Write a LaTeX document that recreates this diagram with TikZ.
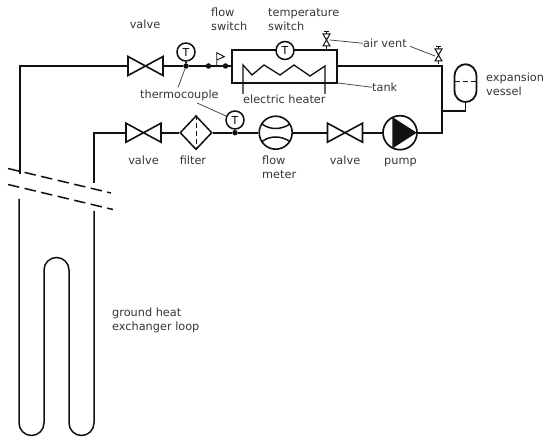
\documentclass[tikz,border=0pt]{standalone}
\usepackage{fontspec}
\setmainfont{DejaVu Sans}
\usetikzlibrary{shapes.geometric,calc}
\definecolor{ink}{HTML}{111111}
\tikzset{
  pipe/.style={line width=1.8pt,draw=ink,line join=miter},
  thin line/.style={line width=0.75pt,draw=ink!80},
  loop line/.style={line width=1.5pt,draw=ink},
  label text/.style={font=\fontsize{11.3}{14}\selectfont,text=ink!85,inner sep=0pt,align=left},
  gauge/.style={circle,draw=ink,line width=1.5pt,fill=white,minimum size=18pt,inner sep=0pt,font=\fontsize{11}{11}\selectfont},
  tap/.style={circle,fill=ink,inner sep=0pt,minimum size=5.5pt},
  bowtie/.pic={
    \draw[pipe,line width=1.6pt] (-17.5,-9.5) -- (17.5,9.5) -- (17.5,-9.5) -- (-17.5,9.5) -- cycle;
    \coordinate (-w) at (-17.5,0);
    \coordinate (-e) at (17.5,0);
  },
  ventvalve/.pic={
    \draw[ink,line width=1pt] (-3.5,-6) -- (3.5,6) -- (-3.5,6) -- (3.5,-6) -- cycle;
    \draw[ink,line width=1pt] (-2.5,-8) -- (2.5,-8);
    \draw[ink,line width=1pt] (0,-8) -- (0,-6) (0,6) -- (0,9);
    \coordinate (-s) at (0,9);
  }
}
\begin{document}
\begin{tikzpicture}[x=1pt,y=-1pt]
\useasboundingbox (0,0) rectangle (550,443);

% tank and heater
\node[draw=ink,line width=1.8pt,minimum width=105pt,minimum height=33pt,inner sep=0pt] (tank) at (284.5,66.5) {};
\draw[line width=1.3pt,draw=ink] (243,94) -- (243,65) -- (252,75) -- (264,65) -- (280,75) -- (294,65) -- (310,76) -- (325,66) -- (325,94);

% components on the upper line
\pic (vA) at (145.5,66) {bowtie};
\node[gauge] (tcA) at (186,52) {T};
\node[tap] (tapA) at (186,66) {};
\node[tap] (swA) at (208.5,66) {};
\node[tap] (swB) at (225.5,66) {};
\node[gauge] (tsw) at (285,50.5) {T};
\pic (ventA) at (326.5,40) {ventvalve};
\pic (ventB) at (438.5,55) {ventvalve};
\coordinate (topleft) at (20,66);
\coordinate (breakTL) at (20,174);
\coordinate (corner) at (442,66);
\coordinate (tankE) at (tank.east |- corner);
\coordinate (tankW) at (tank.west |- corner);

% components on the lower line
\pic (vB) at (143.5,132.7) {bowtie};
\node[diamond,draw=ink,line width=1.5pt,minimum width=32pt,minimum height=34pt,inner sep=0pt] (filter) at (196,132.7) {};
\draw[ink,line width=1pt,dash pattern=on 5pt off 3pt] (filter.north) -- (filter.south);
\node[tap] (tapB) at (235,132.7) {};
\node[gauge] (tcB) at (235,120) {T};
\node[circle,draw=ink,line width=1.6pt,minimum size=33pt,inner sep=0pt] (meter) at (275.7,132.7) {};
\draw[ink,line width=1.5pt] (262,124) .. controls (270,130) and (281,130) .. (290,124);
\draw[ink,line width=1.5pt] (262,141.5) .. controls (270,135.5) and (281,135.5) .. (290,141.5);
\pic (vC) at (345,132.7) {bowtie};
\node[circle,draw=ink,line width=1.7pt,minimum size=34pt,inner sep=0pt] (pump) at (400,132.7) {};
\fill[ink] (392.3,117) -- (416.7,132.7) -- (392.3,148.5) -- cycle;
\coordinate (corner2) at (442,132.7);
\coordinate (lowleft) at (94,132.7);
\coordinate (breakTR) at (94,183);

% expansion vessel
\draw[pipe] (454.5,77) .. controls (454.5,60) and (476.5,60) .. (476.5,77) -- (476.5,90) .. controls (476.5,106) and (454.5,106) .. (454.5,90) -- cycle;
\draw[ink,line width=0.9pt,dash pattern=on 5pt off 3pt] (454.5,81) -- (476.5,81);
\coordinate (vesselS) at (465.5,102);
\coordinate (vesselJ) at (465.5,111);
\coordinate (riserJ) at (442,111);

% pipes
\draw[pipe] (breakTL) -- (topleft) -- (vA-w);
\draw[pipe] (vA-e) -- (tapA) -- (swA);
\draw[pipe] (swB) -- (tankW);
\draw[pipe] (tcA) -- (tapA);
\draw[pipe,line width=1.3pt] (swA) -- (swB);
\draw[ink,line width=0.9pt] (216.7,65) -- (216.7,52.7) -- (224.3,56.7) -- (216.7,60);
\draw[pipe] (tankE) -- (corner) -- (corner2) -- (pump.east);
\draw[pipe] (breakTR) -- (lowleft) -- (vB-w);
\draw[pipe] (vB-e) -- (filter.west);
\draw[pipe] (filter.east) -- (tapB) -- (meter.west);
\draw[pipe] (tcB) -- (tapB);
\draw[pipe] (meter.east) -- (vC-w);
\draw[pipe] (vC-e) -- (pump.west);
\draw[pipe] (vesselS) -- (vesselJ) -- (riserJ);
\draw[ink,line width=1pt] (ventA-s) -- (326.5,50);

% break marks
\draw[pipe,line width=1.5pt,dash pattern=on 11.5pt off 5.5pt] (8,168.5) -- (111,193);
\draw[pipe,line width=1.5pt,dash pattern=on 11.5pt off 5.5pt] (8,184.5) -- (113,209.5);

% ground loop
\coordinate (loopA) at (19,199);
\coordinate (loopB) at (94,211);
\draw[loop line] (loopA) -- (19,423) arc[start angle=180,end angle=0,x radius=12.5,y radius=12.5]
  -- (44,270) arc[start angle=180,end angle=0,x radius=12.5,y radius=-12.5]
  -- (69,423) arc[start angle=180,end angle=0,x radius=12.5,y radius=12.5] -- (loopB);

% labels
\node[label text,anchor=base] (lvA) at (145,29) {valve};
\node[label text,anchor=base west] (lfs) at (211,31) {flow\\switch};
\node[label text,anchor=base west] (lts) at (268,31) {temperature\\switch};
\node[label text,anchor=base west] (lth) at (140,99) {thermocouple};
\node[label text,anchor=base west] (leh) at (243,104) {electric heater};
\node[label text,anchor=base west] (lav) at (363,47.5) {air vent};
\node[label text,anchor=base west] (ltk) at (372,91.5) {tank};
\node[label text,anchor=base west] (lev) at (486,96) {expansion\\vessel};
\node[label text,anchor=base] (lvB) at (143.5,165) {valve};
\node[label text,anchor=base] (lfi) at (193,165) {filter};
\node[label text,anchor=base west] (lfm) at (262,179) {flow\\meter};
\node[label text,anchor=base] (lvC) at (345,165) {valve};
\node[label text,anchor=base] (lpu) at (400.5,165) {pump};
\node[label text,anchor=base west] (lgh) at (112,331) {ground heat\\exchanger loop};

% leaders
\draw[thin line] (tapA) -- (178,87.5);
\draw[thin line] (197,103) -- (tcB);
\draw[thin line] (330,40) -- (lav.west);
\draw[thin line] (lav.east) ++(3,3) -- (435,56);
\draw[thin line] (338,83) -- (ltk.west);
\end{tikzpicture}
\end{document}
